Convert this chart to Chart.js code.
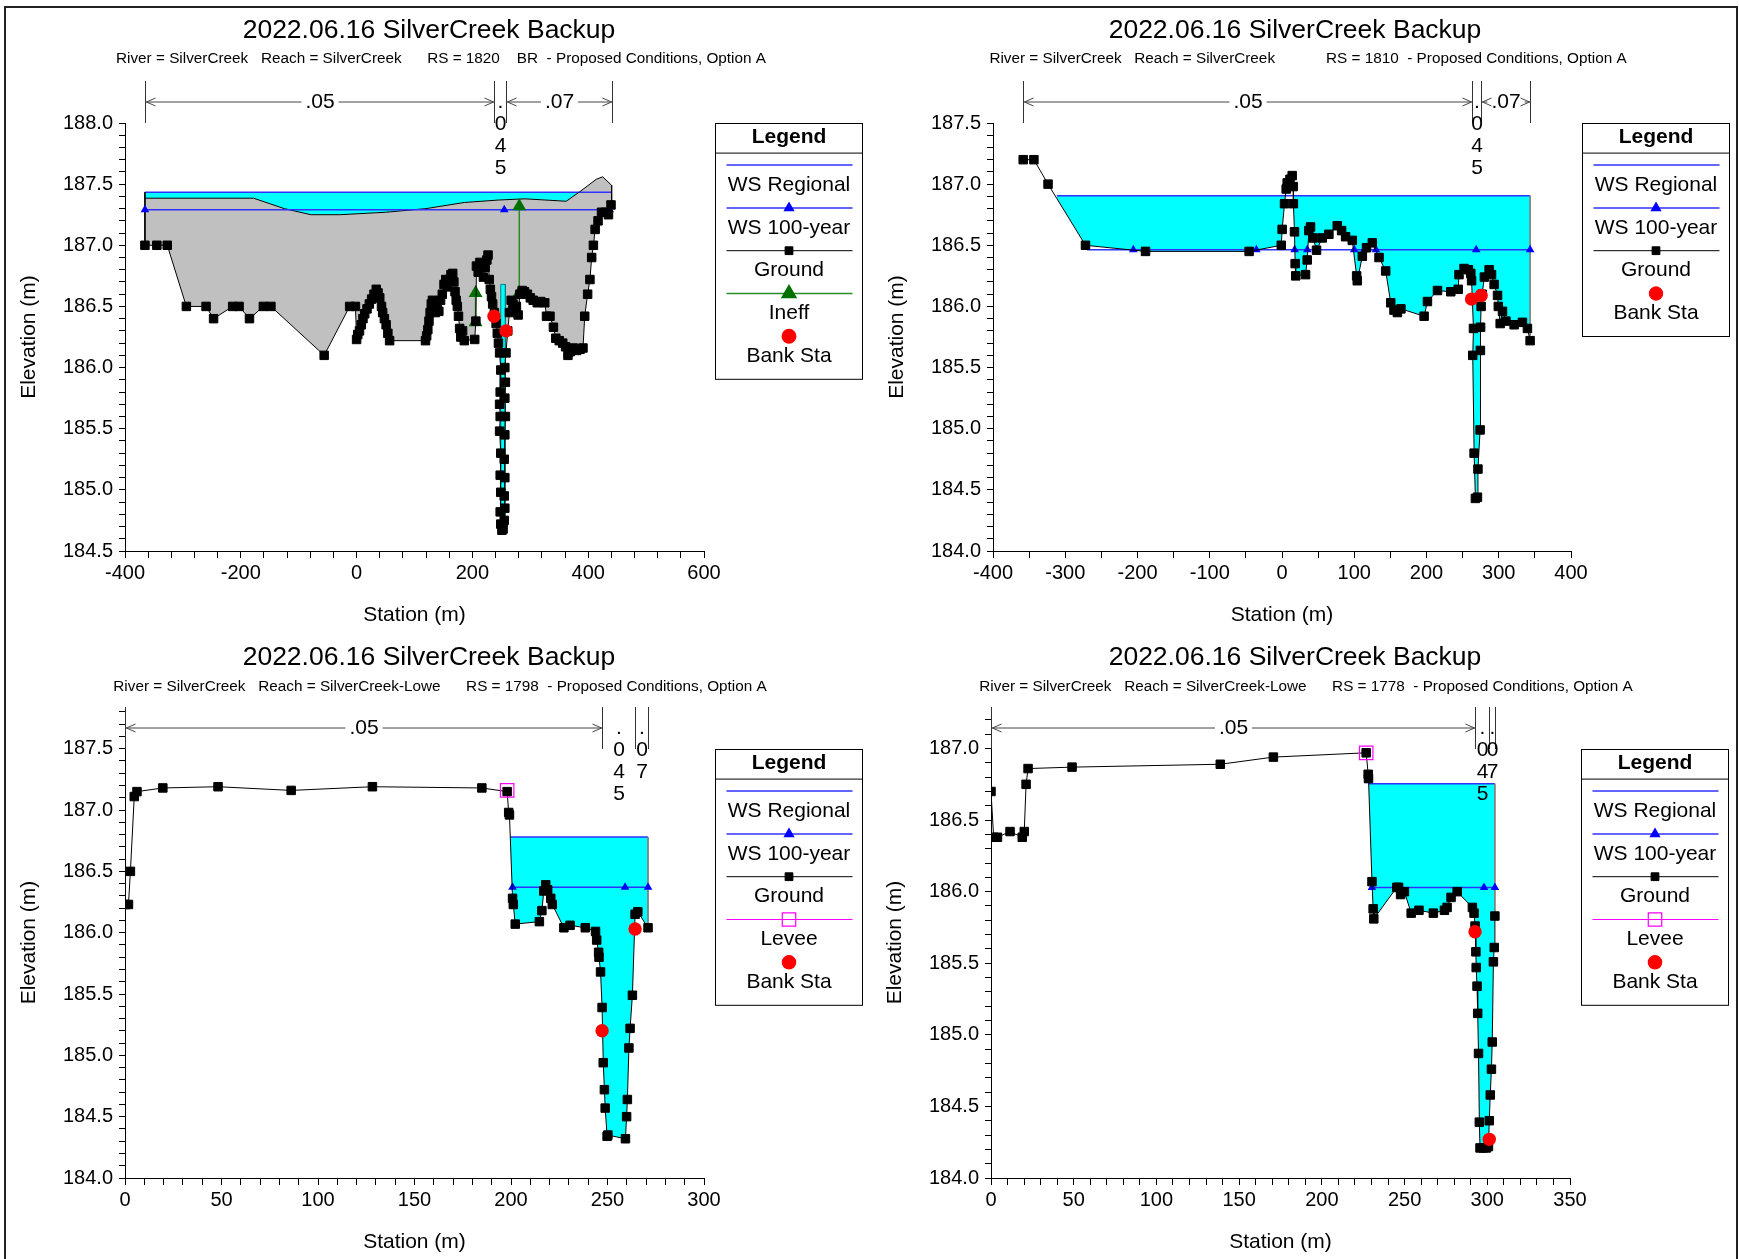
<!DOCTYPE html>
<html>
<head>
<meta charset="utf-8">
<title>2022.06.16 SilverCreek Backup</title>
<script src="https://cdn.jsdelivr.net/npm/chart.js"></script>
<style>
  body { margin: 0; background: #fff; }
  #wrap { position: relative; width: 1739px; height: 1259px; overflow: hidden; }
  #frame { position: absolute; left: 4px; top: 6px; width: 1734px; height: 1300px; border: 2px solid #222; box-sizing: border-box; }
  canvas { position: absolute; }
</style>
</head>
<body>
<div id="wrap">
  <div id="frame"></div>
  <canvas id="c1" width="870" height="630" style="left:0;top:0"></canvas>
  <canvas id="c2" width="869" height="630" style="left:870px;top:0"></canvas>
  <canvas id="c3" width="870" height="629" style="left:0;top:630px"></canvas>
  <canvas id="c4" width="869" height="629" style="left:870px;top:630px"></canvas>
</div>
<script>
// HEC-RAS style cross sections, SilverCreek backup run

const TITLE = '2022.06.16 SilverCreek Backup';
const nLabels = ['.05', '.045', '.07'];

// RS 1820 BR (bridge section)
const p1Ground = [
  [-365.6,187.0],[-345,187.0],[-327,187.0],[-294,186.5],[-260,186.5],[-247,186.4],[-214,186.5],[-203,186.5],
  [-185,186.4],[-161,186.5],[-148,186.5],[-56,186.1],[-12,186.5],[-2,186.5],
  [0,186.23],[2,186.27],[5,186.3],[8,186.35],[11,186.4],[14,186.44],[18,186.48],[22,186.52],[26,186.56],
  [30,186.6],[34,186.64],[37,186.61],[40,186.57],[43,186.5],[45,186.45],[48,186.4],[51,186.35],[54,186.28],[57,186.22],
  [119,186.22],[121,186.26],[123,186.31],[125,186.38],[127,186.45],[129,186.52],[131,186.55],[134,186.5],[136,186.45],
  [139,186.52],[142,186.46],[145,186.55],[148,186.6],[151,186.68],[154,186.72],[157,186.66],[160,186.72],[163,186.76],
  [166,186.77],[168,186.7],[170,186.62],[172,186.55],[174,186.5],[176,186.42],[178,186.32],[180,186.25],[183,186.3],
  [186,186.22],[204,186.23],[206,186.38],[207,186.83],[210,186.78],[213,186.86],[216,186.82],[219,186.74],[222,186.82],
  [225,186.88],[227,186.92],[229,186.72],[231,186.64],[233,186.58],[235,186.52],[238,186.45],[241,186.36],[243,186.28],
  [245,186.2],[247,186.12],[249,185.98],[248,185.8],[247,185.7],[248,185.6],[247,185.48],[249,185.3],[248,185.12],
  [249,184.98],[248,184.82],[249,184.72],[251,184.67],[253,184.68],[255,184.75],[256,184.85],[255,184.95],[256,185.1],
  [255,185.25],[256,185.45],[257,185.6],[256,185.75],[257,185.88],[256,186.0],[258,186.12],[261,186.3],[264,186.45],
  [267,186.55],[270,186.52],[273,186.48],[276,186.5],[279,186.43],[282,186.6],[286,186.63],[290,186.62],[295,186.6],
  [300,186.57],[305,186.55],[312,186.53],[318,186.54],[325,186.53],[328,186.42],[334,186.42],[340,186.33],[344,186.24],
  [350,186.22],[356,186.2],[361,186.17],[365,186.1],[369,186.13],[374,186.16],[380,186.14],[386,186.15],[391,186.16],
  [394,186.42],[399,186.6],[403,186.72],[406,186.9],[409,187.0],[412,187.13],[417,187.2],[423,187.27],[430,187.27],
  [435,187.25],[439.4,187.33]
];
const p1Deck = [
  [-365.6,187.385],[-178,187.385],[-125,187.30],[-79,187.25],[-29,187.25],[50,187.27],[120,187.30],[186,187.35],
  [245,187.37],[291,187.38],[362,187.36],[386,187.44],[414,187.54],[425,187.56],[440.5,187.49],[440.5,187.33]
];
const p1OpeningSta = [249, 257];
const p1LowChord = 186.68;
const p1WsRegSta = [-365.6, 440.5];
const p1WsRegElev = 187.434;
const p1Ws100Sta = [-365.6, 255, 437];
const p1Ws100Elev = 187.29;
const p1IneffLeft = [[205.5,186.37],[205.5,186.61]];
const p1IneffRight = [[281,186.61],[281,187.32]];
const p1Banks = [[237.3,186.42],[258,186.30]];
const p1NSta = [-365.6, 237.3, 258, 440.5];

// RS 1810
const p2Ground = [
  [-358.2,187.2],[-343.4,187.2],[-323.8,187.0],[-272,186.5],[-188.9,186.45],[-45.5,186.45],[-1,186.5],[0.2,186.63],
  [3.5,186.84],[5.8,186.96],[7.2,187.01],[11,187.04],[14.1,187.07],[15.5,186.98],[15.8,186.84],[17.3,186.61],
  [18.2,186.35],[19,186.25],[32.6,186.26],[34.9,186.38],[37.2,186.62],[39.5,186.65],[43,186.56],[47.8,186.46],
  [55.7,186.56],[64.9,186.59],[76.5,186.66],[82.5,186.62],[88,186.57],[97.3,186.54],[103.3,186.25],[104.2,186.21],
  [111.2,186.41],[117,186.48],[125,186.52],[134.3,186.4],[143.5,186.29],[150.5,186.03],[155,185.97],[159.7,185.95],
  [164.6,185.98],[196.7,185.92],[201.3,186.04],[215.2,186.13],[233.6,186.12],[243.9,186.14],[245,186.26],[252,186.31],
  [258,186.3],[261.3,186.27],[262.4,186.21],[265,185.82],[264,185.6],[265.9,184.8],[267.7,184.43],[270.5,184.44],
  [271.2,184.67],[274.2,184.99],[274.6,185.64],[274.9,185.83],[275.6,186.0],[277,186.1],[280.1,186.24],[286.7,186.3],
  [290,186.26],[293.6,186.18],[298.3,186.09],[299.4,186.0],[302,185.86],[305.2,185.96],[310,185.88],[321.3,185.85],
  [332.8,185.87],[339.7,185.82],[343.4,185.72]
];
const p2WsRegSta = [-311.6, 343.4];
const p2WsRegElev = 186.906;
const p2Ws100Sta = [-270, -205.8, -35.5, 17.5, 35, 48, 100, 114, 130, 268.8, 343.4];
const p2Ws100Elev = 186.464;
const p2Banks = [[262.4,186.06],[275.6,186.09]];
const p2NSta = [-358.2, 262.4, 275.6, 343.4];

// RS 1798
const p3Ground = [
  [0,186.23],[1.8,186.23],[2.8,186.5],[4.8,187.11],[6.2,187.15],[19.6,187.18],[48.2,187.19],[86.1,187.16],
  [128.2,187.19],[184.9,187.18],[198,187.15],[198.8,186.98],[199.2,186.96],[200.8,186.28],[201.2,186.23],
  [202.2,186.07],[214.7,186.09],[216,186.18],[217,186.34],[218,186.39],[219,186.35],[220.6,186.28],[221.4,186.23],
  [227.4,186.04],[230.6,186.06],[238.5,186.04],[243.8,186.01],[244.4,185.94],[245.4,185.84],[245.6,185.8],
  [246.4,185.68],[247.2,185.39],[247.8,184.94],[248.4,184.72],[248.8,184.57],[249.8,184.34],[250.2,184.35],
  [259.3,184.32],[259.9,184.5],[260.3,184.64],[261.1,185.06],[261.7,185.22],[262.9,185.49],[264.3,186.15],
  [265.7,186.17],[271,186.04]
];
const p3Levee = [[198,187.16]];
const p3WsRegSta = [199.6, 271];
const p3WsRegElev = 186.78;
const p3Ws100Sta = [200.8, 217, 218.7, 259.1, 271];
const p3Ws100Elev = 186.37;
const p3Banks = [[247.2,185.2],[264.3,186.03]];
const p3NSta = [0, 247.2, 264.3, 271];

// RS 1778
const p4Ground = [
  [0,186.7],[1.6,186.38],[3.9,186.38],[11.5,186.42],[18.9,186.38],[20.1,186.42],[21.2,186.75],[22.4,186.86],
  [49,186.87],[138.6,186.89],[170.7,186.94],[226.8,186.97],[228,186.82],[228.2,186.79],[230.3,186.07],[231,185.88],
  [231.4,185.81],[245.3,186.03],[246.4,186.03],[247.6,185.98],[249.9,186.0],[254,185.85],[258.7,185.87],[267.4,185.85],
  [274.1,185.87],[275.7,185.89],[278.1,185.96],[281.8,186.0],[291,185.89],[292,185.85],[292.6,185.76],[293.1,185.58],
  [293.3,185.47],[293.8,185.34],[294.2,185.15],[294.7,184.87],[295.2,184.39],[295.6,184.21],[297.5,184.21],
  [299.5,184.21],[300.7,184.22],[301.2,184.4],[301.8,184.58],[302.5,184.76],[303,184.95],[303.7,185.51],
  [304.2,185.61],[304.6,185.83]
];
const p4Levee = [[226.8,186.97]];
const p4WsRegSta = [228.3, 304.6];
const p4WsRegElev = 186.754;
const p4Ws100Sta = [230.3, 245, 298, 304.6];
const p4Ws100Elev = 186.03;
const p4Banks = [[292.6,185.72],[301.2,184.27]];
const p4NSta = [0, 292.6, 301.2, 304.6];

const FONT = '"Liberation Sans", Arial, Helvetica, sans-serif';
Chart.defaults.font.family = FONT;
Chart.defaults.color = '#000';

const CYAN = '#00ffff', GREY = '#c0c0c0', BLUE = 'rgb(48,48,255)', MARK_BLUE = '#0000ff';
const RED = '#ff0000', GREEN = 'rgb(40,140,40)', DKGREEN = '#007000', MAGENTA = '#ff00ff', CLEAR = 'rgba(0,0,0,0)';

const xy = arr => arr.map(p => ({x: p[0], y: p[1]}));
const level = (stas, elev) => stas.map(s => ({x: s, y: elev}));

function wsRegional(stas, elev, fillTo) {
  return {label: 'WS Regional', legendRank: 1, legendLine: true, fillTo, data: level(stas, elev),
    showLine: true, borderColor: BLUE, borderWidth: 1.5, pointRadius: 0, legendRadius: 0,
    fill: {target: 0, above: CYAN, below: CLEAR}, order: 7};
}
function ws100(stas, elev, hideFirst) {
  return {label: 'WS 100-year', legendRank: 2, legendLine: true, data: level(stas, elev), showLine: true,
    borderColor: BLUE, borderWidth: 1.5, pointStyle: 'triangle',
    pointRadius: c => (hideFirst && c.dataIndex === 0) ? 0 : 5, legendRadius: 5,
    pointBackgroundColor: MARK_BLUE, pointBorderColor: MARK_BLUE, pointBorderWidth: 0, fill: false, order: 3};
}
function groundSet(pts) {
  return {label: 'Ground', legendRank: 3, legendLine: true, role: 'ground', data: xy(pts), showLine: true,
    borderColor: '#000', borderWidth: 1, pointStyle: 'rect', pointRadius: 6, legendRadius: 5.5,
    pointBackgroundColor: '#000', pointBorderColor: '#000', pointBorderWidth: 1, fill: false, order: 1};
}
function bankSet(pts) {
  return {label: 'Bank Sta', legendRank: 5, legendLine: false, data: xy(pts), showLine: false,
    pointStyle: 'circle', pointRadius: 6.7, legendRadius: 6.7, pointBackgroundColor: RED,
    pointBorderColor: RED, pointBorderWidth: 0, fill: false, order: 0};
}
function leveeSet(pts) {
  return {label: 'Levee', legendRank: 4, legendLine: true, data: xy(pts), showLine: false,
    borderColor: MAGENTA, borderWidth: 1.2, pointStyle: 'rect', pointRadius: 9.5, legendRadius: 9.5,
    pointBackgroundColor: CLEAR, pointBorderColor: MAGENTA, pointBorderWidth: 1.2, fill: false, order: 0.5};
}
function ineffSet(pts, inLegend) {
  return {label: 'Ineff', legendRank: inLegend ? 4 : 0, legendLine: true, data: xy(pts), showLine: true,
    borderColor: GREEN, borderWidth: 1.5, pointStyle: 'triangle', pointRadius: 8, legendRadius: 8,
    pointBackgroundColor: DKGREEN, pointBorderColor: DKGREEN, pointBorderWidth: 0, fill: false, order: 2};
}
function edgeSet(sta, top, bottom, color) {
  return {data: [{x: sta, y: top}, {x: sta, y: bottom}], showLine: true, borderColor: color,
    borderWidth: 1, pointRadius: 0, fill: false, order: 6};
}
function deckSet(pts) {
  return {role: 'deck', fillTo: 'ground', data: xy(pts), showLine: true, borderColor: '#000', borderWidth: 1,
    pointRadius: 0, fill: {target: 0, above: GREY, below: CLEAR}, order: 6};
}
function openingSet(stas, lowChord, floor) {
  const [a, b] = stas;
  return {data: xy([[a, floor], [a, lowChord], [b, lowChord], [b, floor], [a, floor]]), showLine: true,
    borderColor: '#008080', borderWidth: 1, pointRadius: 0, backgroundColor: CYAN, fill: 'shape', order: 5};
}
function linkFills(sets) {
  sets.forEach(d => {
    if (d.fillTo) d.fill.target = sets.findIndex(t => t.role === d.fillTo);
  });
  return sets;
}

function makeTicks(min, max, step) {
  const out = [];
  for (let k = Math.ceil(min / step - 1e-9); k <= Math.floor(max / step + 1e-9); k++) {
    out.push({value: Math.round(k * step * 1e6) / 1e6});
  }
  return out;
}
const isMult = (v, m) => Math.abs(v / m - Math.round(v / m)) < 1e-6;

function mark(ctx, style, r, x, y) {
  ctx.beginPath();
  if (style === 'rect') {
    const s = r * Math.SQRT1_2;
    ctx.rect(x - s, y - s, 2 * s, 2 * s);
  } else if (style === 'triangle') {
    let rad = 0;
    ctx.moveTo(x + Math.sin(rad) * r, y - Math.cos(rad) * r);
    rad += Math.PI * 2 / 3;
    ctx.lineTo(x + Math.sin(rad) * r, y - Math.cos(rad) * r);
    rad += Math.PI * 2 / 3;
    ctx.lineTo(x + Math.sin(rad) * r, y - Math.cos(rad) * r);
    ctx.closePath();
  } else {
    ctx.arc(x, y, r, 0, Math.PI * 2);
  }
  ctx.fill();
  if (ctx.lineWidth > 0) ctx.stroke();
}

function drawN(chart, o) {
  const ctx = chart.ctx, xs = chart.scales.x;
  const top = o.nTop, bot = top + 42, ay = top + 21;
  const px = o.nSta.map(s => Math.round(xs.getPixelForValue(s)) + 0.5);
  ctx.strokeStyle = '#333';
  ctx.lineWidth = 1;
  px.forEach(p => { ctx.beginPath(); ctx.moveTo(p, top); ctx.lineTo(p, bot); ctx.stroke(); });
  ctx.font = '21px ' + FONT;
  ctx.fillStyle = '#000';
  ctx.textAlign = 'center';
  ctx.textBaseline = 'middle';
  o.nLabels.forEach((v, i) => {
    const x1 = px[i], x2 = px[i + 1], mid = (x1 + x2) / 2;
    const tw = ctx.measureText(v).width;
    if (x2 - x1 >= tw + 16) {
      ctx.fillText(v, mid, ay);
      const l = mid - tw / 2 - 4, r = mid + tw / 2 + 4;
      ctx.strokeStyle = '#444';
      ctx.beginPath();
      ctx.moveTo(x1, ay); ctx.lineTo(l, ay);
      ctx.moveTo(r, ay); ctx.lineTo(x2, ay);
      ctx.moveTo(x1 + 10, ay - 4); ctx.lineTo(x1 + 1, ay); ctx.lineTo(x1 + 10, ay + 4);
      ctx.moveTo(x2 - 10, ay - 4); ctx.lineTo(x2 - 1, ay); ctx.lineTo(x2 - 10, ay + 4);
      ctx.stroke();
    } else {
      [...v].forEach((ch, k) => ctx.fillText(ch, mid, ay + k * 22));
    }
  });
}

function drawLegend(chart, o) {
  const ctx = chart.ctx, a = chart.chartArea;
  const items = chart.data.datasets.filter(d => d.legendRank).sort((p, q) => p.legendRank - q.legendRank);
  const x0 = Math.round(a.right + 11) + 0.5, y0 = Math.round(o.legendTop) + 0.5, w = 147;
  const h = 29.6 + 12 + (items.length - 1) * 42.8 + 43;
  ctx.fillStyle = '#fff';
  ctx.fillRect(x0, y0, w, h);
  ctx.strokeStyle = '#000';
  ctx.lineWidth = 1;
  ctx.strokeRect(x0, y0, w, h);
  ctx.beginPath();
  ctx.moveTo(x0, y0 + 29.6); ctx.lineTo(x0 + w, y0 + 29.6);
  ctx.stroke();
  ctx.textAlign = 'center';
  ctx.textBaseline = 'middle';
  ctx.fillStyle = '#000';
  ctx.font = 'bold 21px ' + FONT;
  ctx.fillText('Legend', x0 + w / 2, y0 + 13.5);
  items.forEach((d, i) => {
    const ly = y0 + 41.6 + i * 42.8;
    if (d.legendLine) {
      ctx.strokeStyle = d.borderColor;
      ctx.lineWidth = d.borderWidth || 1;
      ctx.beginPath(); ctx.moveTo(x0 + 11, ly); ctx.lineTo(x0 + 137, ly); ctx.stroke();
    }
    if (d.legendRadius > 0) {
      ctx.fillStyle = d.pointBackgroundColor;
      ctx.strokeStyle = d.pointBorderColor;
      ctx.lineWidth = d.pointBorderWidth || 0;
      mark(ctx, d.pointStyle, d.legendRadius, x0 + w / 2, ly);
    }
    ctx.fillStyle = '#000';
    ctx.font = '21px ' + FONT;
    ctx.fillText(d.label, x0 + w / 2, ly + 20);
  });
}

const decor = {
  id: 'decor',
  afterDraw(chart, args, o) {
    const ctx = chart.ctx;
    ctx.save();
    ctx.fillStyle = '#000';
    ctx.textAlign = 'center';
    ctx.textBaseline = 'middle';
    ctx.font = '26.5px ' + FONT;
    ctx.fillText(o.title, o.titleX, o.titleY);
    ctx.font = '15.3px ' + FONT;
    ctx.fillText(o.subtitle, o.subX, o.subY);
    drawN(chart, o);
    drawLegend(chart, o);
    ctx.restore();
  }
};

function drawPanel(id, p) {
  const cv = document.getElementById(id);
  const W = cv.width, H = cv.height, a = p.area;
  new Chart(cv, {
    type: 'scatter',
    data: {datasets: linkFills(p.sets)},
    options: {
      responsive: false,
      animation: false,
      events: [],
      layout: {padding: {left: 0, top: a.t, right: W - a.r, bottom: 0}},
      plugins: {
        legend: {display: false},
        tooltip: {enabled: false},
        filler: {drawTime: 'beforeDatasetsDraw', propagate: false},
        decor: p.decor
      },
      scales: {
        x: {
          type: 'linear', position: 'bottom', min: p.x[0], max: p.x[1],
          afterBuildTicks: s => { s.ticks = makeTicks(p.x[0], p.x[1], p.x[2]); },
          afterFit: s => { s.height = H - a.b; },
          ticks: {autoSkip: false, maxRotation: 0, minRotation: 0, padding: 3, font: {size: 20}, color: '#000',
            callback: v => isMult(v, p.x[3]) ? String(Math.round(v)) : ''},
          grid: {drawOnChartArea: false, drawTicks: true, tickLength: 7, color: '#000'},
          border: {color: '#000', width: 1},
          title: {display: true, text: 'Station (m)', font: {size: 21}, color: '#000',
            padding: {top: 0, bottom: H - a.b - 64 - 12.6}}
        },
        y: {
          type: 'linear', position: 'left', min: p.y[0], max: p.y[1],
          afterBuildTicks: s => { s.ticks = makeTicks(p.y[0], p.y[1], p.y[2]); },
          afterFit: s => { s.width = a.l; },
          ticks: {autoSkip: false, padding: 6, font: {size: 20}, color: '#000',
            callback: v => isMult(v, p.y[3]) ? v.toFixed(1) : ''},
          grid: {drawOnChartArea: false, drawTicks: true, tickLength: 6, color: '#000'},
          border: {color: '#000', width: 1},
          title: {display: true, text: 'Elevation (m)', font: {size: 21}, color: '#000',
            padding: {top: a.l - 96 - 12.6, bottom: 0}}
        }
      }
    },
    plugins: [decor]
  });
}

const floor1 = Math.min(...p1Ground.map(g => g[1]));

drawPanel('c1', {
  area: {l: 125, r: 704, t: 123, b: 551},
  x: [-400, 600, 40, 200], y: [184.5, 188.0, 0.1, 0.5],
  decor: {title: TITLE, titleX: 429, titleY: 31, subX: 441, subY: 59,
    subtitle: 'River = SilverCreek   Reach = SilverCreek      RS = 1820    BR  - Proposed Conditions, Option A',
    nSta: p1NSta, nLabels, nTop: 81, legendTop: 123},
  sets: [
    wsRegional(p1WsRegSta, p1WsRegElev, 'deck'),
    deckSet(p1Deck),
    openingSet(p1OpeningSta, p1LowChord, floor1),
    edgeSet(p1WsRegSta[0], p1WsRegElev, p1Ground[0][1], '#000'),
    ws100(p1Ws100Sta, p1Ws100Elev, false),
    ineffSet(p1IneffLeft, true),
    ineffSet(p1IneffRight, false),
    groundSet(p1Ground),
    bankSet(p1Banks)
  ]
});

drawPanel('c2', {
  area: {l: 123, r: 701, t: 123, b: 551},
  x: [-400, 400, 50, 100], y: [184.0, 187.5, 0.1, 0.5],
  decor: {title: TITLE, titleX: 425, titleY: 31, subX: 438, subY: 59,
    subtitle: 'River = SilverCreek   Reach = SilverCreek            RS = 1810  - Proposed Conditions, Option A',
    nSta: p2NSta, nLabels, nTop: 81, legendTop: 123},
  sets: [
    wsRegional(p2WsRegSta, p2WsRegElev, 'ground'),
    edgeSet(p2WsRegSta[1], p2WsRegElev, p2Ground[p2Ground.length - 1][1], '#808080'),
    ws100(p2Ws100Sta, p2Ws100Elev, true),
    groundSet(p2Ground),
    bankSet(p2Banks)
  ]
});

drawPanel('c3', {
  area: {l: 125, r: 704, t: 77, b: 548},
  x: [0, 300, 10, 50], y: [184.0, 187.84, 0.1, 0.5],
  decor: {title: TITLE, titleX: 429, titleY: 28, subX: 440, subY: 56.5,
    subtitle: 'River = SilverCreek   Reach = SilverCreek-Lowe      RS = 1798  - Proposed Conditions, Option A',
    nSta: p3NSta, nLabels, nTop: 77, legendTop: 119},
  sets: [
    wsRegional(p3WsRegSta, p3WsRegElev, 'ground'),
    edgeSet(p3WsRegSta[1], p3WsRegElev, p3Ground[p3Ground.length - 1][1], '#808080'),
    ws100(p3Ws100Sta, p3Ws100Elev, false),
    groundSet(p3Ground),
    leveeSet(p3Levee),
    bankSet(p3Banks)
  ]
});

drawPanel('c4', {
  area: {l: 121, r: 700, t: 77, b: 548},
  x: [0, 350, 10, 50], y: [184.0, 187.29, 0.1, 0.5],
  decor: {title: TITLE, titleX: 425, titleY: 28, subX: 436, subY: 56.5,
    subtitle: 'River = SilverCreek   Reach = SilverCreek-Lowe      RS = 1778  - Proposed Conditions, Option A',
    nSta: p4NSta, nLabels, nTop: 77, legendTop: 119},
  sets: [
    wsRegional(p4WsRegSta, p4WsRegElev, 'ground'),
    edgeSet(p4WsRegSta[1], p4WsRegElev, p4Ground[p4Ground.length - 1][1], '#808080'),
    ws100(p4Ws100Sta, p4Ws100Elev, false),
    groundSet(p4Ground),
    leveeSet(p4Levee),
    bankSet(p4Banks)
  ]
});
</script>
</body>
</html>
